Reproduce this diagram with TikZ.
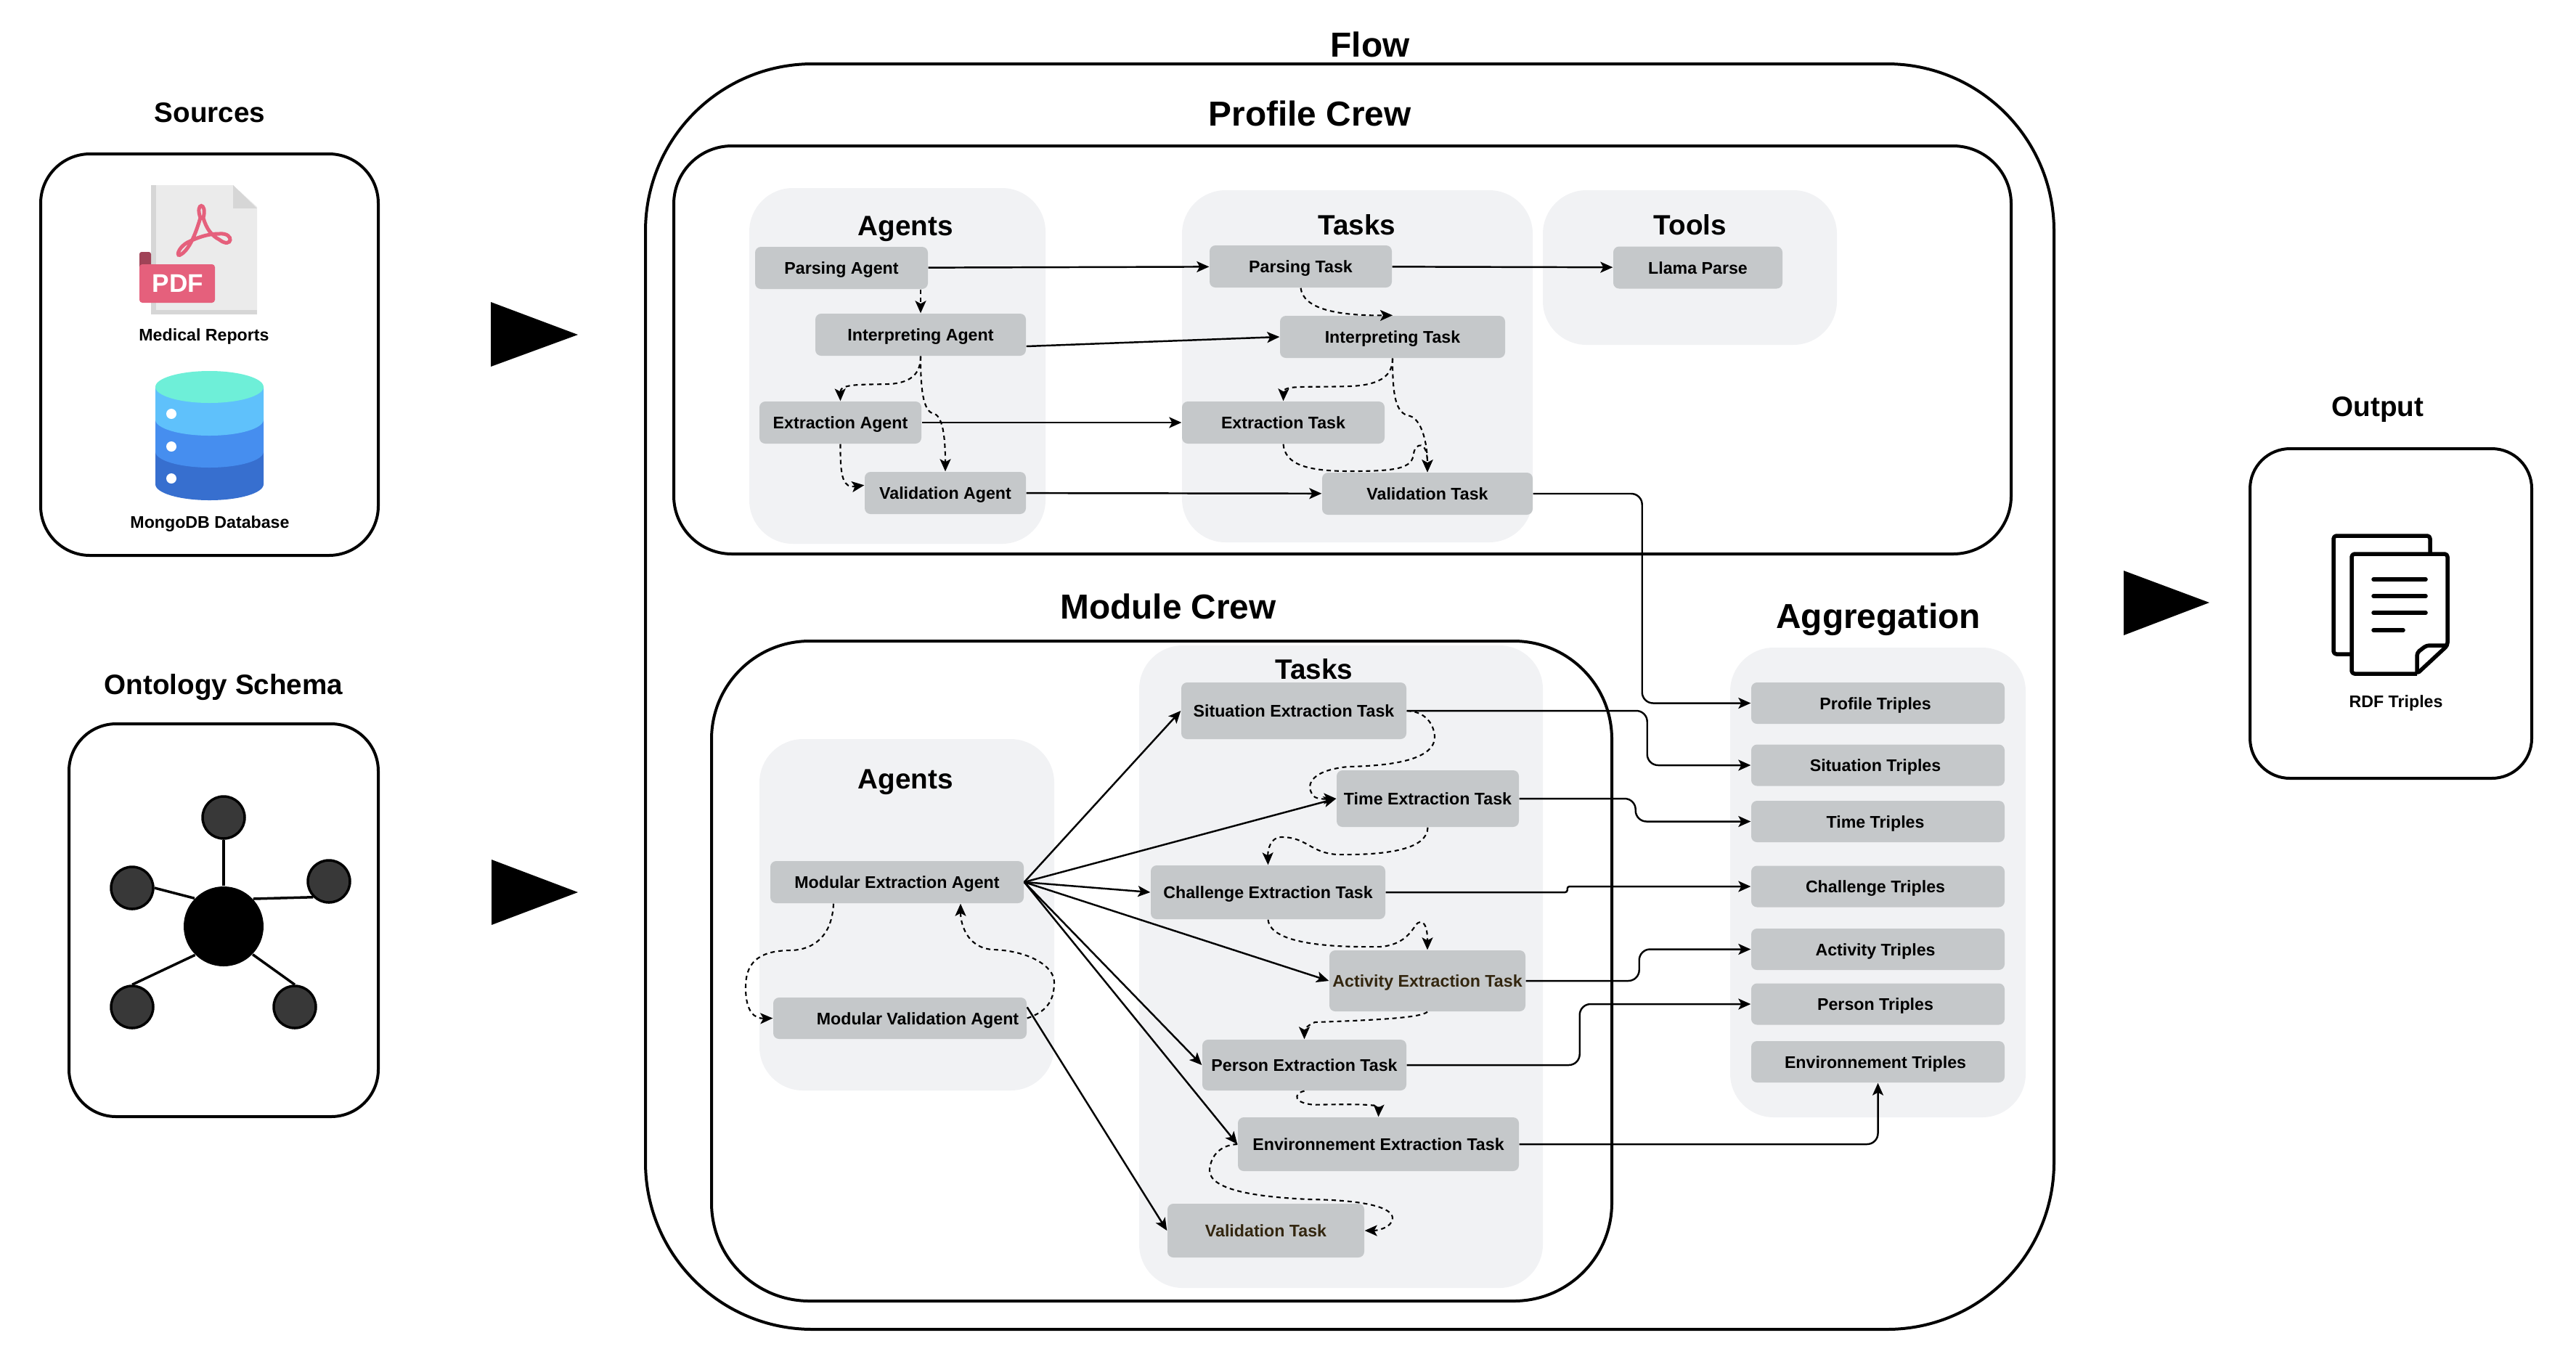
\documentclass[tikz,border=0pt]{standalone}
\usepackage{fontspec}
\setmainfont{Liberation Sans}
\usetikzlibrary{arrows.meta,calc}

\definecolor{boxgrey}{HTML}{C5C8CA}
\definecolor{panelgrey}{HTML}{F1F2F4}
\definecolor{darktext}{HTML}{33260F}
\definecolor{pdfred}{HTML}{E5607C}
\definecolor{dbtop}{HTML}{6EEFD8}
\definecolor{dblight}{HTML}{5FC1FB}
\definecolor{dbmid}{HTML}{468EEF}
\definecolor{dbdark}{HTML}{376FCF}

\tikzset{
  frame/.style={draw=black, line width=0.04cm},
  panel/.style={fill=panelgrey, rounded corners=0.6cm},
  greybox/.style={fill=boxgrey, rounded corners=0.08cm, minimum height=0.58cm, inner sep=0pt,
    text height=4.9pt, text depth=0pt, font=\fontsize{6.6}{8}\selectfont\bfseries},
  triplebox/.style={greybox, minimum width=3.49cm, minimum height=0.57cm},
  bigtitle/.style={font=\fontsize{13.6}{16}\selectfont\bfseries, inner sep=0pt},
  subtitle/.style={font=\fontsize{11}{13}\selectfont\bfseries, inner sep=0pt},
  smalllabel/.style={font=\fontsize{6.6}{8}\selectfont\bfseries, inner sep=0pt},
  flowline/.style={->, line width=0.7pt},
  dashline/.style={->, line width=0.6pt, dash pattern=on 1.7pt off 1.4pt},
  spoke/.style={line width=0.035cm},
  satellite/.style={circle, draw=black, fill=black!78, line width=0.035cm, minimum size=0.58cm, inner sep=0pt},
}

\begin{document}
\begin{tikzpicture}[>={Stealth[length=1.7mm,width=1.5mm,inset=0.4mm]}]
  \useasboundingbox (0,0) rectangle (35.48,-18.64);

  % Sources
  \node[subtitle] (sourcesTitle) at (2.89,-1.55) {Sources};
  \draw[frame, rounded corners=0.68cm] (0.56,-2.12) rectangle (5.21,-7.65);

  \begin{scope}
    \fill[black!8] (2.08,-2.55) -- (3.21,-2.55) -- (3.54,-2.85) -- (3.54,-4.33) -- (2.08,-4.33) -- cycle;
    \fill[black!16] (3.21,-2.55) -- (3.54,-2.87) -- (3.21,-2.87) -- cycle;
    \fill[black!16] (2.08,-2.55) rectangle (2.15,-4.33);
    \fill[black!16] (2.08,-4.27) rectangle (3.54,-4.33);
    \draw[pdfred, line width=0.05cm] (2.50,-3.50) .. controls (2.62,-3.42) and (2.70,-3.20) .. (2.76,-3.00)
              .. controls (2.68,-2.78) and (2.86,-2.78) .. (2.80,-3.00)
              .. controls (2.84,-3.15) and (2.92,-3.25) .. (3.02,-3.30)
              .. controls (3.20,-3.44) and (3.24,-3.20) .. (3.02,-3.22)
              .. controls (2.85,-3.22) and (2.70,-3.28) .. (2.58,-3.34)
              .. controls (2.44,-3.42) and (2.42,-3.56) .. (2.50,-3.50);
    \fill[pdfred!70!black, rounded corners=0.03cm] (1.92,-3.47) rectangle (2.08,-3.80);
    \fill[pdfred, rounded corners=0.04cm] (1.92,-3.64) rectangle (2.96,-4.17);
    \node[text=white, font=\fontsize{10}{12}\selectfont\bfseries, inner sep=0pt] (pdfMark) at (2.45,-3.90) {PDF};
  \end{scope}
  \node[smalllabel] (medicalReports) at (2.81,-4.63) {Medical Reports};

  \begin{scope}
    \fill[dbdark] (2.14,-6.22) -- (2.14,-6.67) arc[x radius=0.745, y radius=0.22, start angle=180, end angle=360] -- (3.63,-6.22) -- cycle;
    \fill[dbmid] (2.14,-5.78) -- (2.14,-6.22) arc[x radius=0.745, y radius=0.22, start angle=180, end angle=360] -- (3.63,-5.78) -- cycle;
    \fill[dblight] (2.14,-5.33) -- (2.14,-5.78) arc[x radius=0.745, y radius=0.22, start angle=180, end angle=360] -- (3.63,-5.33) -- cycle;
    \fill[dbtop] (2.885,-5.33) ellipse [x radius=0.745, y radius=0.22];
    \fill[white] (2.36,-5.70) circle (0.07);
    \fill[white] (2.36,-6.15) circle (0.07);
    \fill[white] (2.36,-6.59) circle (0.07);
  \end{scope}
  \node[smalllabel] (mongoDatabase) at (2.89,-7.22) {MongoDB Database};

  % Ontology
  \node[subtitle] (ontologyTitle) at (3.08,-9.47) {Ontology Schema};
  \draw[frame, rounded corners=0.65cm] (0.95,-9.97) rectangle (5.21,-15.38);
  \node[circle, fill=black, minimum size=1.10cm, inner sep=0pt] (hub) at (3.08,-12.76) {};
  \node[satellite] (satTop) at (3.08,-11.26) {};
  \node[satellite] (satLeft) at (1.82,-12.23) {};
  \node[satellite] (satRight) at (4.53,-12.14) {};
  \node[satellite] (satLow) at (1.82,-13.87) {};
  \node[satellite] (satDown) at (4.06,-13.87) {};
  \draw[spoke] (hub.north) -- (satTop.south);
  \draw[spoke] (hub.136) -- (satLeft.east);
  \draw[spoke] (hub.43) -- (satRight.225);
  \draw[spoke] (hub.225) -- (satLow.north);
  \draw[spoke] (hub.-44) -- (satDown.north);

  % big arrows
  \fill (6.76,-4.16) -- (7.96,-4.61) -- (6.76,-5.05) -- cycle;
  \fill (6.77,-11.84) -- (7.96,-12.29) -- (6.77,-12.74) -- cycle;
  \fill (29.25,-7.86) -- (30.43,-8.30) -- (29.25,-8.75) -- cycle;

  % Flow
  \node[bigtitle] (flowTitle) at (18.87,-0.61) {Flow};
  \draw[frame, rounded corners=2.3cm] (8.89,-0.88) rectangle (28.29,-18.31);

  % Profile Crew
  \node[bigtitle] (profileTitle) at (18.04,-1.56) {Profile Crew};
  \draw[frame, rounded corners=0.8cm] (9.28,-2.01) rectangle (27.70,-7.63);
  \fill[panel] (10.32,-2.59) rectangle (14.40,-7.49);
  \fill[panel] (16.28,-2.62) rectangle (21.11,-7.47);
  \fill[panel] (21.25,-2.62) rectangle (25.30,-4.75);
  \node[subtitle] (agentsTitle) at (12.47,-3.15) {Agents};
  \node[subtitle] (tasksTitle) at (18.69,-3.10) {Tasks};
  \node[subtitle] (toolsTitle) at (23.28,-3.10) {Tools};

  \node[greybox, minimum width=2.38cm] (parsingAgent) at (11.59,-3.69) {Parsing Agent};
  \node[greybox, minimum width=2.90cm] (interpretingAgent) at (12.68,-4.61) {Interpreting Agent};
  \node[greybox, minimum width=2.23cm] (extractionAgent) at (11.575,-5.82) {Extraction Agent};
  \node[greybox, minimum width=2.22cm] (validationAgent) at (13.02,-6.79) {Validation Agent};
  \node[greybox, minimum width=2.51cm] (parsingTask) at (17.915,-3.67) {Parsing Task};
  \node[greybox, minimum width=3.10cm] (interpretingTask) at (19.18,-4.64) {Interpreting Task};
  \node[greybox, minimum width=2.79cm] (extractionTask) at (17.675,-5.82) {Extraction Task};
  \node[greybox, minimum width=2.90cm] (validationTask) at (19.66,-6.80) {Validation Task};
  \node[greybox, minimum width=2.33cm] (llamaParse) at (23.385,-3.685) {Llama Parse};

  \draw[flowline] (parsingAgent) -- (parsingTask);
  \draw[flowline] (parsingTask) -- (llamaParse);
  \draw[flowline] ($(interpretingAgent.east)+(0,-0.16)$) -- (interpretingTask.west);
  \draw[flowline] (extractionAgent) -- (extractionTask);
  \draw[flowline] (validationAgent) -- (validationTask);

  \draw[dashline] (interpretingAgent.north |- parsingAgent.south) -- (interpretingAgent.north);
  \draw[dashline] (interpretingAgent.south) .. controls (12.68,-5.12) and (12.58,-5.27) .. (12.25,-5.29)
              .. controls (11.90,-5.30) and (11.57,-5.28) .. (extractionAgent.north);
  \draw[dashline] (interpretingAgent.south) .. controls (12.68,-5.30) and (12.70,-5.68) .. (12.87,-5.70)
              .. controls (13.00,-5.75) and (13.02,-6.10) .. (validationAgent.north);
  \draw[dashline] (extractionAgent.south) .. controls (11.57,-6.60) and (11.62,-6.72) .. ($(validationAgent.north west)+(0,-0.19)$);
  \draw[dashline] (parsingTask.south) .. controls (17.95,-4.25) and (18.40,-4.35) .. (interpretingTask.north);
  \draw[dashline] (interpretingTask.south) .. controls (19.18,-5.15) and (19.05,-5.30) .. (18.60,-5.32)
              .. controls (18.00,-5.34) and (17.68,-5.30) .. (extractionTask.north);
  \draw[dashline] (interpretingTask.south) .. controls (19.18,-5.45) and (19.22,-5.70) .. (19.42,-5.73)
              .. controls (19.58,-5.78) and (19.66,-6.10) .. (validationTask.north);
  \draw[dashline] (extractionTask.south) .. controls (17.70,-6.40) and (18.00,-6.49) .. (18.60,-6.49)
              .. controls (19.25,-6.49) and (19.45,-6.45) .. (19.47,-6.25)
              .. controls (19.49,-6.10) and (19.66,-6.05) .. (validationTask.north);

  % Module Crew
  \node[bigtitle] (moduleTitle) at (16.09,-8.35) {Module Crew};
  \draw[frame, rounded corners=1.35cm] (9.80,-8.83) rectangle (22.20,-17.92);
  \fill[panel] (10.46,-10.18) rectangle (14.52,-15.02);
  \fill[panel] (15.69,-8.89) rectangle (21.25,-17.74);
  \node[subtitle] (modAgentsTitle) at (12.47,-10.77) {Agents};
  \node[subtitle] (modTasksTitle) at (18.10,-9.22) {Tasks};

  \node[greybox, minimum width=3.49cm] (modExtAgent) at (12.355,-12.15) {Modular Extraction Agent};
  \node[greybox, minimum width=3.49cm, minimum height=0.57cm] (modValAgent) at (12.395,-14.025) {\hspace*{0.49cm}Modular Validation Agent};
  \node[greybox, minimum width=3.10cm, minimum height=0.78cm] (situationTask) at (17.82,-9.79) {Situation Extraction Task};
  \node[greybox, minimum width=2.51cm, minimum height=0.78cm] (timeTask) at (19.665,-11.00) {Time Extraction Task};
  \node[greybox, minimum width=3.23cm, minimum height=0.74cm] (challengeTask) at (17.465,-12.29) {Challenge Extraction Task};
  \node[greybox, minimum width=2.70cm, minimum height=0.84cm, text=darktext] (activityTask) at (19.66,-13.51) {Activity Extraction Task};
  \node[greybox, minimum width=2.81cm, minimum height=0.70cm] (personTask) at (17.965,-14.67) {Person Extraction Task};
  \node[greybox, minimum width=3.87cm, minimum height=0.74cm] (envTask) at (18.985,-15.76) {Environnement Extraction Task};
  \node[greybox, minimum width=2.71cm, minimum height=0.74cm, text=darktext] (modValTask) at (17.435,-16.95) {Validation Task};

  \draw[flowline] (modExtAgent.east) -- (situationTask.west);
  \draw[flowline] (modExtAgent.east) -- (timeTask.west);
  \draw[flowline] (modExtAgent.east) -- (challengeTask.west);
  \draw[flowline] (modExtAgent.east) -- (activityTask.west);
  \draw[flowline] (modExtAgent.east) -- (personTask.west);
  \draw[flowline] (modExtAgent.east) -- (envTask.west);
  \draw[flowline] ($(modValAgent.north east)+(0,-0.14)$) -- (modValTask.west);

  \draw[dashline] ($(modExtAgent.south)+(-0.875,0)$) .. controls (11.46,-12.90) and (11.20,-13.08) .. (10.90,-13.09)
              .. controls (10.40,-13.09) and (10.27,-13.30) .. (10.27,-13.60)
              .. controls (10.27,-13.95) and (10.40,-14.03) .. (modValAgent.west);
  \draw[dashline] (modValAgent.east) .. controls (14.40,-13.94) and (14.52,-13.80) .. (14.52,-13.53)
              .. controls (14.52,-13.30) and (14.15,-13.09) .. (13.67,-13.08)
              .. controls (13.30,-13.05) and (13.23,-12.70) .. ($(modExtAgent.south)+(0.875,0)$);
  \draw[dashline] (situationTask.east) .. controls (19.76,-9.81) and (19.76,-10.15) .. (19.76,-10.15)
              .. controls (19.76,-10.50) and (19.03,-10.55) .. (18.57,-10.56)
              .. controls (18.03,-10.61) and (17.96,-10.84) .. (18.11,-10.98)
              .. controls (18.20,-11.02) and (18.30,-11.00) .. (timeTask.west);
  \draw[dashline] (timeTask.south) .. controls (19.66,-11.70) and (19.10,-11.78) .. (18.42,-11.77)
              .. controls (18.05,-11.75) and (18.00,-11.53) .. (17.65,-11.53)
              .. controls (17.50,-11.53) and (17.46,-11.70) .. (challengeTask.north);
  \draw[dashline] (challengeTask.south) .. controls (17.50,-13.02) and (18.42,-13.05) .. (19.03,-13.04)
              .. controls (19.45,-12.99) and (19.47,-12.70) .. (19.56,-12.70)
              .. controls (19.66,-12.70) and (19.66,-12.90) .. (activityTask.north);
  \draw[dashline] (activityTask.south) .. controls (19.57,-14.02) and (18.95,-14.05) .. (18.11,-14.08)
              .. controls (17.97,-14.14) and (17.965,-14.20) .. (personTask.north);
  \draw[dashline] (personTask.south) .. controls (17.81,-15.06) and (17.81,-15.20) .. (18.11,-15.217)
              .. controls (18.95,-15.20) and (18.99,-15.23) .. (envTask.north);
  \draw[dashline] (envTask.west) .. controls (16.66,-15.78) and (16.66,-16.12) .. (16.66,-16.12)
              .. controls (16.66,-16.40) and (17.35,-16.49) .. (18.04,-16.52)
              .. controls (18.80,-16.53) and (19.18,-16.63) .. (19.18,-16.78)
              .. controls (19.17,-16.92) and (18.95,-16.95) .. (modValTask.east);

  % Aggregation
  \node[bigtitle] (aggregationTitle) at (25.87,-8.53) {Aggregation};
  \fill[panel] (23.83,-8.92) rectangle (27.90,-15.39);
  \node[triplebox] (profileTriples) at (25.865,-9.685) {\hspace*{-0.07cm}Profile Triples};
  \node[triplebox] (situationTriples) at (25.865,-10.54) {\hspace*{-0.07cm}Situation Triples};
  \node[triplebox] (timeTriples) at (25.865,-11.315) {\hspace*{-0.07cm}Time Triples};
  \node[triplebox] (challengeTriples) at (25.865,-12.21) {\hspace*{-0.07cm}Challenge Triples};
  \node[triplebox] (activityTriples) at (25.865,-13.075) {\hspace*{-0.07cm}Activity Triples};
  \node[triplebox] (personTriples) at (25.865,-13.83) {\hspace*{-0.07cm}Person Triples};
  \node[triplebox] (envTriples) at (25.865,-14.625) {\hspace*{-0.07cm}Environnement Triples};

  \begin{scope}[rounded corners=0.15cm]
    \draw[flowline] (validationTask.east) -- ++(1.50,0) |- (profileTriples.west);
    \draw[flowline] (situationTask.east) -- ++(3.31,0) |- (situationTriples.west);
    \draw[flowline] (timeTask.east) -- ++(1.60,0) |- (timeTriples.west);
    \draw[flowline, rounded corners=0.03cm] (challengeTask.east) -- ++(2.50,0) |- (challengeTriples.west);
    \draw[flowline] (activityTask.east) -- ++(1.56,0) |- (activityTriples.west);
    \draw[flowline] (personTask.east) -- ++(2.38,0) |- (personTriples.west);
    \draw[flowline] (envTask.east) -| (envTriples.south);
  \end{scope}

  % Output
  \node[subtitle] (outputTitle) at (32.75,-5.64) {Output};
  \draw[frame, rounded corners=0.55cm] (30.99,-6.18) rectangle (34.87,-10.72);
  \begin{scope}[line width=0.055cm, rounded corners=0.04cm, line join=round]
    \draw (32.39,-9.01) -- (32.14,-9.01) -- (32.14,-7.38) -- (33.47,-7.38) -- (33.47,-7.63);
    \draw (33.29,-9.28) -- (32.39,-9.28) -- (32.39,-7.63) -- (33.71,-7.63) -- (33.71,-8.89) -- (33.29,-9.28) -- (33.29,-8.99) -- (33.42,-8.89) -- (33.71,-8.89);
    \draw[line cap=round] (32.69,-7.98) -- (33.41,-7.98);
    \draw[line cap=round] (32.69,-8.21) -- (33.41,-8.21);
    \draw[line cap=round] (32.69,-8.44) -- (33.41,-8.44);
    \draw[line cap=round] (32.69,-8.68) -- (33.10,-8.68);
  \end{scope}
  \node[smalllabel] (rdfTriples) at (33.00,-9.68) {RDF Triples};
\end{tikzpicture}
\end{document}
